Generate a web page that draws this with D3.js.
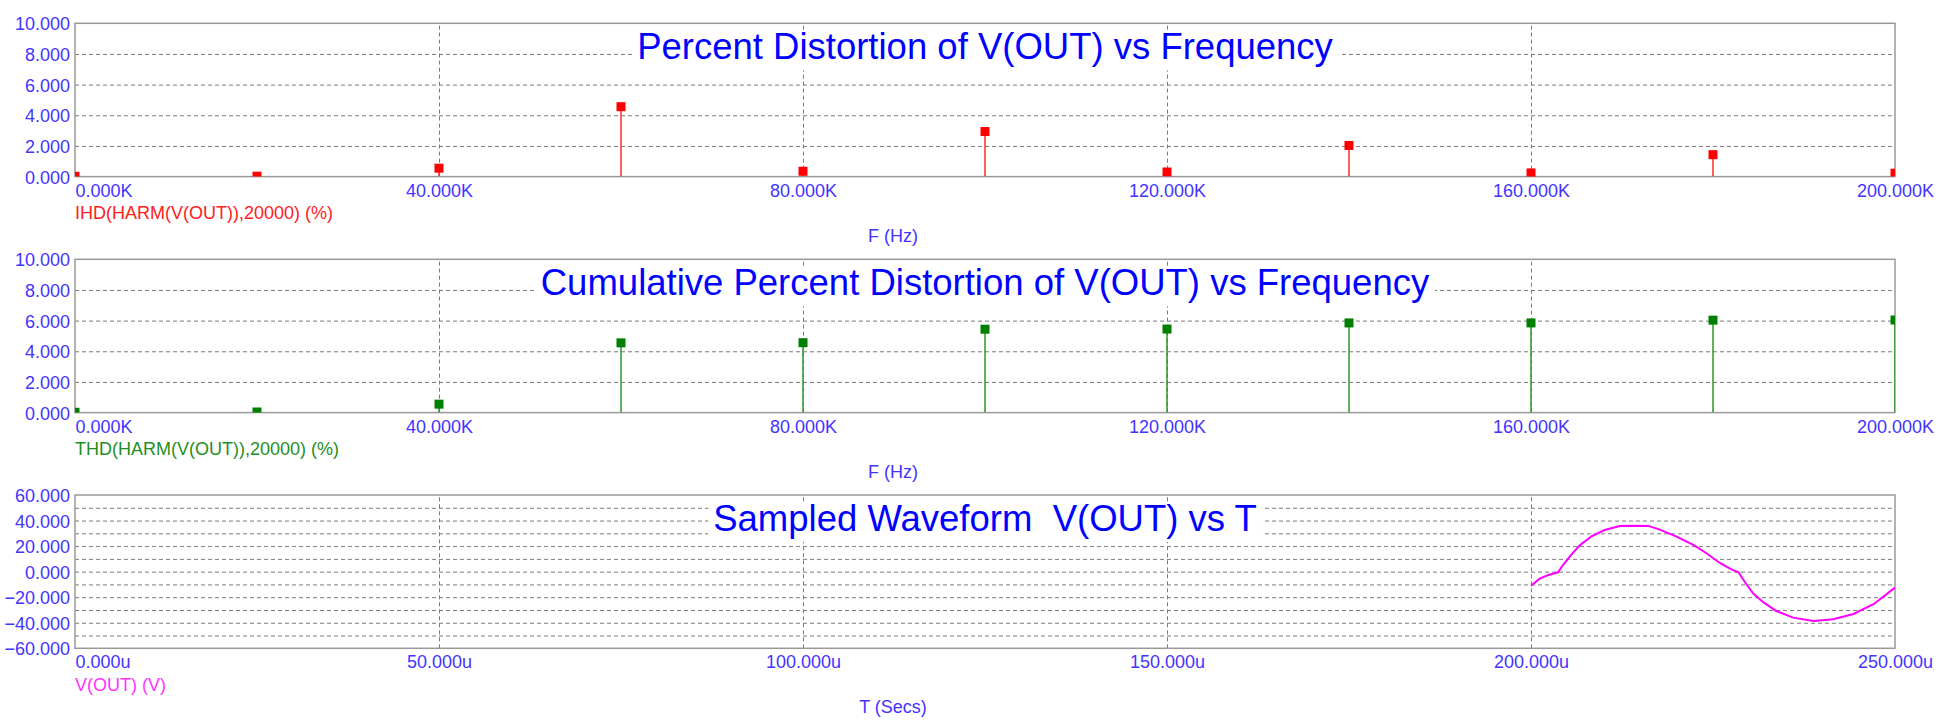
<!DOCTYPE html>
<html>
<head>
<meta charset="utf-8">
<script src="https://cdn.jsdelivr.net/npm/d3@7"></script>
<style>
  body { margin: 0; background: #fff; }
  svg { display: block; font-family: "Liberation Sans", Arial, sans-serif; }
  .grid line { stroke: #7a7a7a; stroke-width: 1; stroke-dasharray: 4,3; }
  .grid path { display: none; }
  .tick-label text { fill: #4433ff; font-size: 18px; }
  .tick-label path, .tick-label line { display: none; }
</style>
</head>
<body>
<script>
// harmonic frequencies (Hz)
var freqs = [0, 20000, 40000, 60000, 80000, 100000, 120000, 140000, 160000, 180000, 200000];
// individual harmonic distortion (%)
var ihd = [0.02, 0.03, 0.55, 4.56, 0.35, 2.94, 0.30, 2.03, 0.24, 1.43, 0.22];
// cumulative (total) harmonic distortion (%)
var thd = [0.02, 0.04, 0.55, 4.55, 4.56, 5.44, 5.45, 5.85, 5.85, 6.03, 6.04];

// sampled waveform, time in microseconds, V(OUT) in volts
var timeUs = [200.0, 201.2, 202.4, 203.7, 204.4, 205.4, 206.7, 208.3, 210.1, 212.2, 214.0, 216.1,
  217.7, 220.0, 222.3, 224.1, 226.0, 227.4, 228.5, 229.4, 230.5, 231.9, 233.7, 236.0,
  238.8, 241.5, 244.3, 247.1, 250.0];
var vout = [-11.0, -5.5, -2.6, -0.5, 5.2, 12.3, 20.6, 27.6, 32.6, 35.8, 36.0, 35.8,
  32.9, 27.4, 20.9, 14.4, 6.6, 2.1, -0.5, -8.3, -16.9, -23.9, -30.8, -36.0,
  -38.6, -37.3, -33.1, -25.3, -12.5];

var freqTicks = [0, 40000, 80000, 120000, 160000, 200000];
var freqGrid = [40000, 80000, 120000, 160000];
var pctTicks = [0, 2, 4, 6, 8, 10];
var pctGrid = [2, 4, 6, 8];
var timeTicks = [0, 50, 100, 150, 200, 250];
var timeGrid = [50, 100, 150, 200];
var voltTicks = [-60, -40, -20, 0, 20, 40, 60];
var voltGrid = [-50, -40, -30, -20, -10, 0, 10, 20, 30, 40, 50];

var W = 1959, H = 722;
var left = 75, width = 1820, height = 153.3;

var svg = d3.select("body").append("svg")
    .attr("width", W)
    .attr("height", H);

var fmtK = function(d) { return d3.format(".3f")(d / 1000) + "K"; };
var fmtU = function(d) { return d3.format(".3f")(d) + "u"; };
var fmtY = d3.format(".3f");

function panel(cfg) {
  var g = svg.append("g")
      .attr("transform", "translate(" + left + "," + cfg.top + ")");

  var x = d3.scaleLinear().domain(cfg.xDomain).range([0, width]);
  var y = d3.scaleLinear().domain(cfg.yDomain).range([height, 0]);

  g.append("clipPath").attr("id", "clip" + cfg.id)
    .append("rect").attr("width", width).attr("height", height);

  // dashed grid
  g.append("g")
      .attr("class", "grid")
      .call(d3.axisLeft(y).tickValues(cfg.yGrid).tickSize(-width).tickFormat(""));
  g.append("g")
      .attr("class", "grid")
      .attr("transform", "translate(0," + height + ")")
      .call(d3.axisBottom(x).tickValues(cfg.xGrid).tickSize(-height).tickFormat(""));

  // title with white box behind it
  var title = g.append("text")
      .attr("x", width / 2)
      .attr("y", 36)
      .attr("text-anchor", "middle")
      .style("font-size", "36.5px")
      .style("fill", "#0000ff")
      .style("white-space", "pre")
      .text(cfg.title);
  var bb = title.node().getBBox();
  g.insert("rect", function() { return title.node(); })
      .attr("x", bb.x - 5)
      .attr("y", 8)
      .attr("width", bb.width + 10)
      .attr("height", 39)
      .attr("fill", "#fff");

  // frame
  g.append("rect")
      .attr("width", width)
      .attr("height", height)
      .attr("fill", "none")
      .attr("stroke", "#999")
      .attr("stroke-width", 1.5);

  // axes labels
  var ya = g.append("g")
      .attr("class", "tick-label")
      .call(d3.axisLeft(y).tickValues(cfg.yTicks).tickFormat(fmtY).tickSize(0).tickPadding(5));
  ya.selectAll("text").attr("dy", "0.36em");

  var xa = g.append("g")
      .attr("class", "tick-label")
      .attr("transform", "translate(0," + height + ")")
      .call(d3.axisBottom(x).tickValues(cfg.xTicks).tickFormat(cfg.xFormat).tickSize(0));
  xa.selectAll("text").attr("y", 20).attr("dy", null);
  xa.selectAll("text").filter(function(d, i) { return i === 0; })
      .attr("text-anchor", "start");

  // trace legend and x label
  g.append("text")
      .attr("x", 0)
      .attr("y", height + 42.5)
      .style("font-size", "18px")
      .style("fill", cfg.legendColor)
      .text(cfg.legend);
  g.append("text")
      .attr("x", 818)
      .attr("y", height + 65)
      .attr("text-anchor", "middle")
      .style("font-size", "18px")
      .style("fill", "#4433ff")
      .text(cfg.xLabel);

  var marks = g.append("g").attr("clip-path", "url(#clip" + cfg.id + ")");
  return { g: marks, x: x, y: y };
}

function stems(p, xs, ys, stemColor, markColor) {
  p.g.selectAll(".stem")
      .data(xs)
    .enter().append("line")
      .attr("class", "stem")
      .attr("x1", function(d) { return p.x(d); })
      .attr("x2", function(d) { return p.x(d); })
      .attr("y1", p.y(0))
      .attr("y2", function(d, i) { return p.y(ys[i]); })
      .attr("stroke", stemColor)
      .attr("stroke-width", 1.5);
  p.g.selectAll(".mark")
      .data(xs)
    .enter().append("rect")
      .attr("class", "mark")
      .attr("x", function(d) { return p.x(d) - 4.5; })
      .attr("y", function(d, i) { return p.y(ys[i]) - 4.5; })
      .attr("width", 9)
      .attr("height", 9)
      .attr("fill", markColor);
}

var p1 = panel({
  id: 1, top: 23.3,
  xDomain: [0, 200000], yDomain: [0, 10],
  xTicks: freqTicks, xGrid: freqGrid, yTicks: pctTicks, yGrid: pctGrid,
  xFormat: fmtK,
  title: "Percent Distortion of V(OUT) vs Frequency",
  legend: "IHD(HARM(V(OUT)),20000) (%)", legendColor: "#ff2020",
  xLabel: "F (Hz)"
});
stems(p1, freqs, ihd, "#ff2a2a", "#ff0000");

var p2 = panel({
  id: 2, top: 259.3,
  xDomain: [0, 200000], yDomain: [0, 10],
  xTicks: freqTicks, xGrid: freqGrid, yTicks: pctTicks, yGrid: pctGrid,
  xFormat: fmtK,
  title: "Cumulative Percent Distortion of V(OUT) vs Frequency",
  legend: "THD(HARM(V(OUT)),20000) (%)", legendColor: "#1f8f1f",
  xLabel: "F (Hz)"
});
stems(p2, freqs, thd, "#2a9a2a", "#008000");

var p3 = panel({
  id: 3, top: 495,
  xDomain: [0, 250], yDomain: [-60, 60],
  xTicks: timeTicks, xGrid: timeGrid, yTicks: voltTicks, yGrid: voltGrid,
  xFormat: fmtU,
  title: "Sampled Waveform  V(OUT) vs T",
  legend: "V(OUT) (V)", legendColor: "#ff33ff",
  xLabel: "T (Secs)"
});

var line = d3.line()
    .x(function(d, i) { return p3.x(timeUs[i]); })
    .y(function(d) { return p3.y(d); });

p3.g.append("path")
    .datum(vout)
    .attr("d", line)
    .attr("fill", "none")
    .attr("stroke", "#ff00ff")
    .attr("stroke-width", 2);
</script>
</body>
</html>
